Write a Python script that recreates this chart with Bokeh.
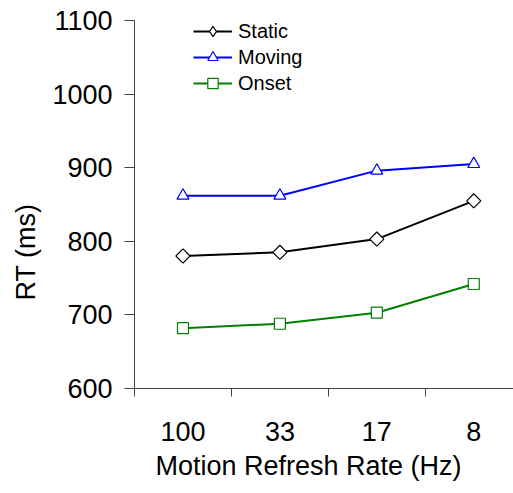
import math
from bokeh.plotting import figure
from bokeh.models import FixedTicker, Range1d, Legend, LegendItem, Title
from bokeh.embed import file_html
from bokeh.resources import INLINE

categories = ["100", "33", "17", "8"]
static = [780, 785, 803, 855]
moving = [862, 862, 896, 905]
onset = [682, 688, 703, 742]
y_ticks = [600, 700, 800, 900, 1000, 1100]

FONT = "Liberation Sans"
xs = list(range(len(categories)))

p = figure(width=513, height=493, output_backend="svg", toolbar_location=None,
           x_range=Range1d(-0.5, 3.41), y_range=Range1d(600, 1100),
           min_border_left=134, min_border_right=0, min_border_top=20,
           min_border_bottom=105)
p.outline_line_color = None
p.xgrid.grid_line_color = None
p.ygrid.grid_line_color = None
p.background_fill_color = "white"
p.border_fill_color = "white"

# y axis
p.yaxis.ticker = FixedTicker(ticks=y_ticks)
p.yaxis.major_tick_out = 10
p.yaxis.major_tick_in = 0
p.yaxis.minor_tick_out = 0
p.yaxis.minor_tick_in = 0
p.yaxis.major_label_standoff = 12
p.yaxis.major_label_text_font = FONT
p.yaxis.major_label_text_font_size = "27px"
p.yaxis.major_label_text_color = "black"
p.yaxis.axis_line_color = "#444444"
p.yaxis.major_tick_line_color = "#444444"

# x axis
p.xaxis.ticker = FixedTicker(ticks=xs, minor_ticks=[x - 0.5 for x in xs])
p.xaxis.major_label_overrides = {i: c for i, c in enumerate(categories)}
p.xaxis.major_tick_out = 0
p.xaxis.major_tick_in = 0
p.xaxis.minor_tick_out = 8
p.xaxis.minor_tick_in = 0
p.xaxis.axis_line_color = "#444444"
p.xaxis.minor_tick_line_color = "#444444"
p.xaxis.major_label_standoff = 25
p.xaxis.major_label_text_font = FONT
p.xaxis.major_label_text_font_size = "27px"
p.xaxis.major_label_text_color = "black"

# axis titles, placed like the reference
p.add_layout(Title(text="Motion Refresh Rate (Hz)", align="left", offset=21,
                   vertical_align="bottom", text_line_height=0.7,
                   text_font=FONT, text_font_size="27px", text_font_style="normal",
                   text_color="black", standoff=10), "below")
p.add_layout(Title(text="RT (ms)", align="left", offset=88,
                   text_font=FONT, text_font_size="27px", text_font_style="normal",
                   text_color="black", standoff=17), "left")

series = [
    ("Static", static, "black", "square", 10, math.pi / 4, "diamond"),
    ("Moving", moving, "#0000FF", "triangle", 12, 0.0, "triangle"),
    ("Onset", onset, "#008000", "square", 11, 0.0, "square"),
]
items = []
for name, vals, col, mk, sz, ang, legend_mk in series:
    l = p.line(xs, vals, line_color=col, line_width=2)
    s = p.scatter(xs, vals, marker=mk, size=sz, angle=ang, line_color=col,
                  fill_color="white", line_width=1.2)
    if legend_mk == mk and ang == 0.0:
        items.append(LegendItem(label=name, renderers=[l, s]))
    else:
        # hidden twin used only for the legend swatch (upright diamond)
        sw = p.scatter(xs, vals, marker=legend_mk, size=sz, line_color=col,
                       fill_color="white", line_width=1.2, visible=False)
        items.append(LegendItem(label=name, renderers=[l, sw]))

legend = Legend(items=items, location=(59, 292), padding=0, margin=0, spacing=0,
                label_height=26, glyph_height=26, glyph_width=39, label_standoff=6,
                label_text_font=FONT, label_text_font_size="20px",
                label_text_color="black",
                border_line_alpha=0, background_fill_alpha=0)
p.add_layout(legend)

open("out.html", "w").write(file_html(p, INLINE))
